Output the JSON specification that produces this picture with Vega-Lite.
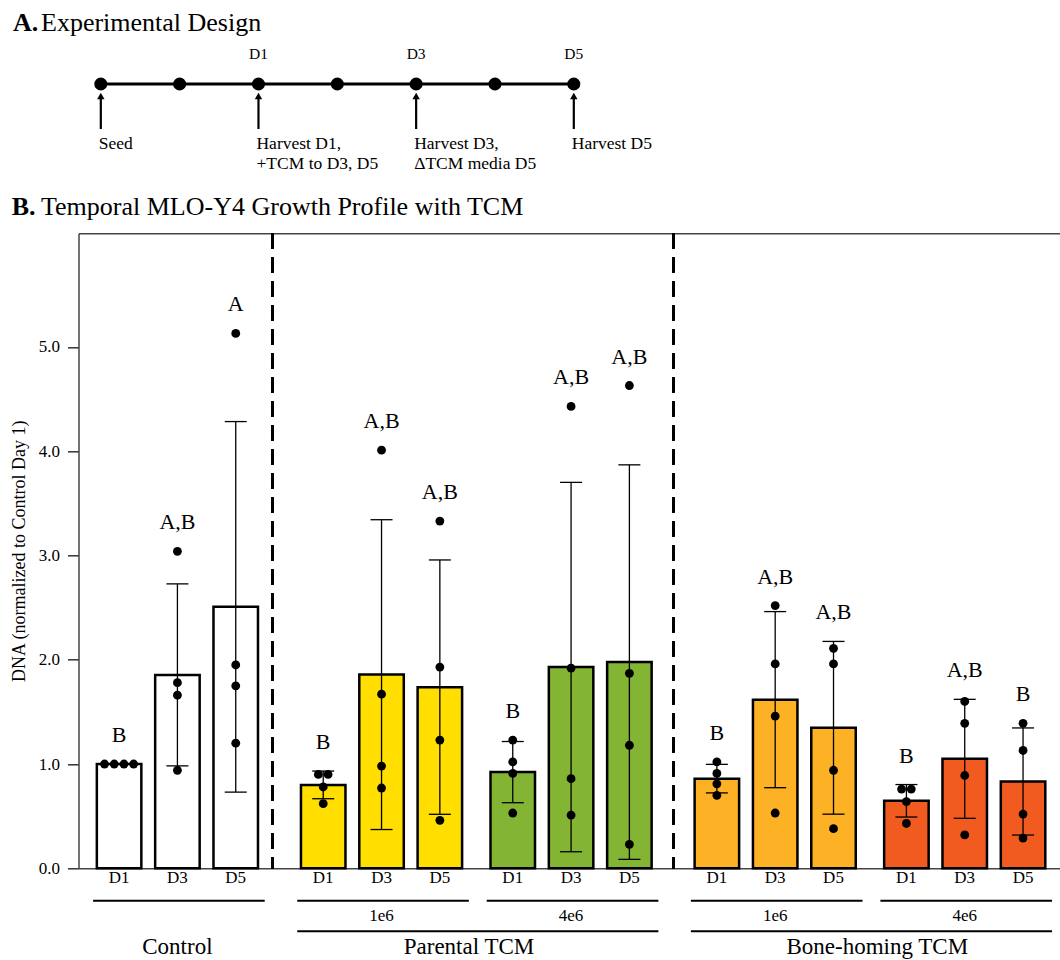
{
  "$schema": "https://vega.github.io/schema/vega-lite/v6.json",
  "background": "white",
  "padding": {"left": 9.5, "top": 10, "right": 0, "bottom": 0},
  "config": {
    "font": "Liberation Serif",
    "view": {"stroke": null},
    "axis": {"labelColor": "black", "titleColor": "black", "labelFont": "Liberation Serif", "titleFont": "Liberation Serif"},
    "title": {"font": "Liberation Serif", "fontWeight": "normal", "color": "black", "fontSize": 26, "anchor": "start"}
  },
  "datasets": {
    "days": [
      {"day": -1, "ev": "Seed"},
      {"day": 0},
      {"day": 1, "top": "D1", "ev": "Harvest D1,\n+TCM to D3, D5"},
      {"day": 2},
      {"day": 3, "top": "D3", "ev": "Harvest D3,\nΔTCM media D5"},
      {"day": 4},
      {"day": 5, "top": "D5", "ev": "Harvest D5"}
    ],
    "pts": [
      {"grp": "Control", "day": "D1", "value": 1.0},
      {"grp": "Control", "day": "D1", "value": 1.0},
      {"grp": "Control", "day": "D1", "value": 1.0},
      {"grp": "Control", "day": "D1", "value": 1.0},
      {"grp": "Control", "day": "D3", "value": 3.04},
      {"grp": "Control", "day": "D3", "value": 1.78},
      {"grp": "Control", "day": "D3", "value": 1.66},
      {"grp": "Control", "day": "D3", "value": 0.94},
      {"grp": "Control", "day": "D5", "value": 5.13},
      {"grp": "Control", "day": "D5", "value": 1.95},
      {"grp": "Control", "day": "D5", "value": 1.75},
      {"grp": "Control", "day": "D5", "value": 1.2},
      {"grp": "Parental 1e6", "day": "D1", "value": 0.9},
      {"grp": "Parental 1e6", "day": "D1", "value": 0.9},
      {"grp": "Parental 1e6", "day": "D1", "value": 0.78},
      {"grp": "Parental 1e6", "day": "D1", "value": 0.62},
      {"grp": "Parental 1e6", "day": "D3", "value": 4.01},
      {"grp": "Parental 1e6", "day": "D3", "value": 1.67},
      {"grp": "Parental 1e6", "day": "D3", "value": 0.98},
      {"grp": "Parental 1e6", "day": "D3", "value": 0.77},
      {"grp": "Parental 1e6", "day": "D5", "value": 3.33},
      {"grp": "Parental 1e6", "day": "D5", "value": 1.93},
      {"grp": "Parental 1e6", "day": "D5", "value": 1.23},
      {"grp": "Parental 1e6", "day": "D5", "value": 0.46},
      {"grp": "Parental 4e6", "day": "D1", "value": 1.23},
      {"grp": "Parental 4e6", "day": "D1", "value": 1.02},
      {"grp": "Parental 4e6", "day": "D1", "value": 0.91},
      {"grp": "Parental 4e6", "day": "D1", "value": 0.53},
      {"grp": "Parental 4e6", "day": "D3", "value": 4.43},
      {"grp": "Parental 4e6", "day": "D3", "value": 1.92},
      {"grp": "Parental 4e6", "day": "D3", "value": 0.86},
      {"grp": "Parental 4e6", "day": "D3", "value": 0.51},
      {"grp": "Parental 4e6", "day": "D5", "value": 4.63},
      {"grp": "Parental 4e6", "day": "D5", "value": 1.87},
      {"grp": "Parental 4e6", "day": "D5", "value": 1.18},
      {"grp": "Parental 4e6", "day": "D5", "value": 0.23},
      {"grp": "Bone-homing 1e6", "day": "D1", "value": 1.02},
      {"grp": "Bone-homing 1e6", "day": "D1", "value": 0.91},
      {"grp": "Bone-homing 1e6", "day": "D1", "value": 0.81},
      {"grp": "Bone-homing 1e6", "day": "D1", "value": 0.7},
      {"grp": "Bone-homing 1e6", "day": "D3", "value": 2.52},
      {"grp": "Bone-homing 1e6", "day": "D3", "value": 1.96},
      {"grp": "Bone-homing 1e6", "day": "D3", "value": 1.46},
      {"grp": "Bone-homing 1e6", "day": "D3", "value": 0.53},
      {"grp": "Bone-homing 1e6", "day": "D5", "value": 2.11},
      {"grp": "Bone-homing 1e6", "day": "D5", "value": 1.96},
      {"grp": "Bone-homing 1e6", "day": "D5", "value": 0.94},
      {"grp": "Bone-homing 1e6", "day": "D5", "value": 0.38},
      {"grp": "Bone-homing 4e6", "day": "D1", "value": 0.76},
      {"grp": "Bone-homing 4e6", "day": "D1", "value": 0.76},
      {"grp": "Bone-homing 4e6", "day": "D1", "value": 0.64},
      {"grp": "Bone-homing 4e6", "day": "D1", "value": 0.43},
      {"grp": "Bone-homing 4e6", "day": "D3", "value": 1.6},
      {"grp": "Bone-homing 4e6", "day": "D3", "value": 1.39},
      {"grp": "Bone-homing 4e6", "day": "D3", "value": 0.89},
      {"grp": "Bone-homing 4e6", "day": "D3", "value": 0.32},
      {"grp": "Bone-homing 4e6", "day": "D5", "value": 1.39},
      {"grp": "Bone-homing 4e6", "day": "D5", "value": 1.13},
      {"grp": "Bone-homing 4e6", "day": "D5", "value": 0.52},
      {"grp": "Bone-homing 4e6", "day": "D5", "value": 0.29}
    ],
    "letters": [
      {"key": "Control|D1", "letter": "B"},
      {"key": "Control|D3", "letter": "A,B"},
      {"key": "Control|D5", "letter": "A"},
      {"key": "Parental 1e6|D1", "letter": "B"},
      {"key": "Parental 1e6|D3", "letter": "A,B"},
      {"key": "Parental 1e6|D5", "letter": "A,B"},
      {"key": "Parental 4e6|D1", "letter": "B"},
      {"key": "Parental 4e6|D3", "letter": "A,B"},
      {"key": "Parental 4e6|D5", "letter": "A,B"},
      {"key": "Bone-homing 1e6|D1", "letter": "B"},
      {"key": "Bone-homing 1e6|D3", "letter": "A,B"},
      {"key": "Bone-homing 1e6|D5", "letter": "A,B"},
      {"key": "Bone-homing 4e6|D1", "letter": "B"},
      {"key": "Bone-homing 4e6|D3", "letter": "A,B"},
      {"key": "Bone-homing 4e6|D5", "letter": "B"}
    ],
    "brackets": [
      {"a": "Control|D1", "b": "Control|D5", "tier": "line1"},
      {"a": "Parental 1e6|D1", "b": "Parental 1e6|D5", "tier": "line1"},
      {"a": "Parental 4e6|D1", "b": "Parental 4e6|D5", "tier": "line1"},
      {"a": "Bone-homing 1e6|D1", "b": "Bone-homing 1e6|D5", "tier": "line1"},
      {"a": "Bone-homing 4e6|D1", "b": "Bone-homing 4e6|D5", "tier": "line1"},
      {"a": "Parental 1e6|D1", "b": "Parental 4e6|D5", "tier": "line2"},
      {"a": "Bone-homing 1e6|D1", "b": "Bone-homing 4e6|D5", "tier": "line2"}
    ],
    "glabels": [
      {"text": "1e6", "at": "Parental 1e6|D3", "tier": "dose"},
      {"text": "4e6", "at": "Parental 4e6|D3", "tier": "dose"},
      {"text": "1e6", "at": "Bone-homing 1e6|D3", "tier": "dose"},
      {"text": "4e6", "at": "Bone-homing 4e6|D3", "tier": "dose"},
      {"text": "Control", "at": "Control|D3", "tier": "group"},
      {"text": "Parental TCM", "at": "s18", "tier": "group"},
      {"text": "Bone-homing TCM", "at": "s40", "tier": "group"}
    ]
  },
  "spacing": 22.3,
  "resolve": {"scale": {"x": "independent", "y": "independent"}},
  "vconcat": [
    {
      "title": {"text": "A.", "fontWeight": "bold", "frame": "bounds", "dx": -28, "dy": 26, "offset": 0},
      "vconcat": [
        {
          "title": {"text": "Experimental Design", "frame": "group", "dx": -37.5, "offset": 11},
          "width": 600,
          "height": 90,
          "data": {"name": "days"},
          "encoding": {
            "x": {"field": "day", "type": "quantitative", "scale": {"domain": [-1.283, 6.328], "nice": false, "zero": false}, "axis": null}
          },
          "layer": [
            {
              "mark": {"type": "line", "color": "black", "strokeWidth": 3},
              "encoding": {"y": {"datum": "line", "type": "ordinal", "scale": {"type": "point", "domain": ["day", "line", "gap", "event"], "padding": 0}, "axis": null}}
            },
            {
              "mark": {"type": "circle", "color": "black", "opacity": 1, "size": 170},
              "encoding": {"y": {"datum": "line", "type": "ordinal"}}
            },
            {
              "transform": [{"filter": "isValid(datum.ev)"}],
              "mark": {"type": "rule", "color": "black", "strokeWidth": 2.2, "yOffset": 13, "y2Offset": -15},
              "encoding": {"y": {"datum": "line", "type": "ordinal"}, "y2": {"datum": "event"}}
            },
            {
              "transform": [{"filter": "isValid(datum.ev)"}],
              "mark": {"type": "point", "shape": "triangle-up", "filled": true, "color": "black", "opacity": 1, "size": 55, "yOffset": 12},
              "encoding": {"y": {"datum": "line", "type": "ordinal"}}
            },
            {
              "transform": [{"filter": "isValid(datum.top)"}],
              "mark": {"type": "text", "fontSize": 15.5, "baseline": "middle", "align": "center", "color": "black"},
              "encoding": {"y": {"datum": "day", "type": "ordinal"}, "text": {"field": "top"}}
            },
            {
              "transform": [{"filter": "isValid(datum.ev)"}],
              "mark": {"type": "text", "fontSize": 17.5, "baseline": "top", "align": "left", "dx": -2, "dy": -9, "lineBreak": "\n", "lineHeight": 19.5, "color": "black"},
              "encoding": {"y": {"datum": "event", "type": "ordinal"}, "text": {"field": "ev"}}
            }
          ]
        }
      ]
    },
    {
      "title": {"text": "B.", "fontWeight": "bold", "frame": "bounds", "dx": 1.5, "dy": 26, "offset": 0},
      "spacing": 14.4,
      "resolve": {"scale": {"x": "shared", "y": "independent"}},
      "vconcat": [
        {
          "title": {"text": "Temporal MLO-Y4 Growth Profile with TCM", "frame": "group", "dx": -37.5, "offset": 12},
          "width": 981.3,
          "height": 635,
          "data": {"name": "pts"},
          "transform": [
            {"calculate": "datum.grp + '|' + datum.day", "as": "key"},
            {"window": [{"op": "row_number", "as": "r"}], "groupby": ["key", "value"]},
            {"joinaggregate": [{"op": "count", "as": "n"}], "groupby": ["key", "value"]},
            {"calculate": "datum.r - (datum.n + 1) / 2", "as": "dodge"}
          ],
          "resolve": {"axis": {"x": "independent"}},
          "layer": [
            {
              "transform": [{"aggregate": [{"op": "mean", "field": "value", "as": "m"}], "groupby": ["key", "grp"]}],
              "mark": {"type": "bar", "width": 44.5, "stroke": "black", "strokeWidth": 2.5, "opacity": 1},
              "encoding": {
                "x": {
                  "field": "key", "type": "nominal",
                  "scale": {"type": "band", "paddingInner": 0, "paddingOuter": 0.6525, "align": 0.218, "round": false,
                    "domain": ["L0","L1","Control|D1","s0","s1","s2","Control|D3","s3","s4","s5","Control|D5","s6","s7","s8","s9","s10","Parental 1e6|D1","s11","s12","s13","Parental 1e6|D3","s14","s15","s16","Parental 1e6|D5","s17","s18","s19","s20","Parental 4e6|D1","s21","s22","s23","Parental 4e6|D3","s24","s25","s26","Parental 4e6|D5","s27","s28","s29","s30","s31","Bone-homing 1e6|D1","s32","s33","s34","Bone-homing 1e6|D3","s35","s36","s37","Bone-homing 1e6|D5","s38","s39","s40","s41","Bone-homing 4e6|D1","s42","s43","s44","Bone-homing 4e6|D3","s45","s46","s47","Bone-homing 4e6|D5","R0"]},
                  "axis": {"orient": "bottom", "title": null, "ticks": false, "labelAngle": 0, "labelOverlap": false, "labelFontSize": 17, "labelPadding": 1, "domainColor": "#444", "domainWidth": 1.5,
                    "labelExpr": "indexof(datum.value, '|') >= 0 ? split(datum.value, '|')[1] : ''"}
                },
                "y": {
                  "field": "m", "type": "quantitative", "title": "DNA (normalized to Control Day 1)",
                  "scale": {"domain": [0, 6.09], "nice": false},
                  "axis": {"values": [0, 1, 2, 3, 4, 5], "format": ".1f", "grid": false, "tickSize": 11, "tickColor": "#333", "tickWidth": 1.5, "domainColor": "#444", "domainWidth": 1.5, "labelFontSize": 17, "labelPadding": 8, "titleFontSize": 18, "titleFontWeight": "normal", "titlePadding": 10}
                },
                "fill": {"field": "grp", "type": "nominal", "legend": null,
                  "scale": {"domain": ["Control", "Parental 1e6", "Parental 4e6", "Bone-homing 1e6", "Bone-homing 4e6"], "range": ["#FFFFFF", "#FFDE00", "#84B433", "#FDB124", "#F25B1F"]}}
              }
            },
            {
              "transform": [
                {"aggregate": [{"op": "mean", "field": "value", "as": "m"}, {"op": "stdev", "field": "value", "as": "sd"}], "groupby": ["key"]},
                {"filter": "datum.sd > 0"},
                {"calculate": "datum.m - datum.sd", "as": "lo"},
                {"calculate": "datum.m + datum.sd", "as": "hi"}
              ],
              "mark": {"type": "rule", "color": "black", "strokeWidth": 1.3},
              "encoding": {
                "x": {"field": "key", "type": "nominal", "axis": null},
                "y": {"field": "lo", "type": "quantitative", "title": "DNA (normalized to Control Day 1)"},
                "y2": {"field": "hi"}
              }
            },
            {
              "transform": [
                {"aggregate": [{"op": "mean", "field": "value", "as": "m"}, {"op": "stdev", "field": "value", "as": "sd"}], "groupby": ["key"]},
                {"filter": "datum.sd > 0"},
                {"calculate": "datum.m - datum.sd", "as": "lo"},
                {"calculate": "datum.m + datum.sd", "as": "hi"},
                {"fold": ["lo", "hi"], "as": ["end", "v"]}
              ],
              "mark": {"type": "tick", "color": "black", "thickness": 1.3, "size": 22, "opacity": 1},
              "encoding": {
                "x": {"field": "key", "type": "nominal", "axis": null},
                "y": {"field": "v", "type": "quantitative", "title": "DNA (normalized to Control Day 1)"}
              }
            },
            {
              "mark": {"type": "circle", "color": "black", "opacity": 1, "size": 78},
              "encoding": {
                "x": {"field": "key", "type": "nominal", "axis": {"orient": "top", "title": null, "labels": false, "ticks": false, "domain": true, "domainColor": "#444", "domainWidth": 1.5}},
                "xOffset": {"field": "dodge", "type": "quantitative", "scale": {"domain": [-1.5, 1.5], "range": [-7.26, 21.84]}},
                "y": {"field": "value", "type": "quantitative", "title": "DNA (normalized to Control Day 1)"}
              }
            },
            {
              "mark": {"type": "rule", "color": "black", "strokeWidth": 2, "strokeDash": [15, 9]},
              "encoding": {"x": {"datum": "s7", "type": "nominal", "bandPosition": 1, "axis": null}}
            },
            {
              "mark": {"type": "rule", "color": "black", "strokeWidth": 2, "strokeDash": [15, 9]},
              "encoding": {"x": {"datum": "s29", "type": "nominal", "bandPosition": 0.5, "axis": null}}
            },
            {
              "transform": [
                {"aggregate": [{"op": "mean", "field": "value", "as": "m"}, {"op": "stdev", "field": "value", "as": "sd"}, {"op": "max", "field": "value", "as": "mx"}], "groupby": ["key"]},
                {"calculate": "max(datum.mx, datum.m + datum.sd)", "as": "top"},
                {"lookup": "key", "from": {"data": {"name": "letters"}, "key": "key", "fields": ["letter"]}}
              ],
              "mark": {"type": "text", "fontSize": 22, "dy": -29, "baseline": "middle", "align": "center", "color": "black"},
              "encoding": {
                "x": {"field": "key", "type": "nominal", "axis": null},
                "y": {"field": "top", "type": "quantitative", "title": "DNA (normalized to Control Day 1)"},
                "text": {"field": "letter"}
              }
            }
          ]
        },
        {
          "width": 981.3,
          "height": 46,
          "layer": [
            {
              "data": {"name": "brackets"},
              "mark": {"type": "rule", "color": "black", "strokeWidth": 2, "xOffset": -26, "x2Offset": 29},
              "encoding": {
                "x": {"field": "a", "type": "nominal", "axis": null,
                  "scale": {"type": "band", "paddingInner": 0, "paddingOuter": 0.6525, "align": 0.218, "round": false,
                    "domain": ["L0","L1","Control|D1","s0","s1","s2","Control|D3","s3","s4","s5","Control|D5","s6","s7","s8","s9","s10","Parental 1e6|D1","s11","s12","s13","Parental 1e6|D3","s14","s15","s16","Parental 1e6|D5","s17","s18","s19","s20","Parental 4e6|D1","s21","s22","s23","Parental 4e6|D3","s24","s25","s26","Parental 4e6|D5","s27","s28","s29","s30","s31","Bone-homing 1e6|D1","s32","s33","s34","Bone-homing 1e6|D3","s35","s36","s37","Bone-homing 1e6|D5","s38","s39","s40","s41","Bone-homing 4e6|D1","s42","s43","s44","Bone-homing 4e6|D3","s45","s46","s47","Bone-homing 4e6|D5","R0"]}},
                "x2": {"field": "b"},
                "y": {"field": "tier", "type": "ordinal", "axis": null, "scale": {"type": "point", "domain": ["line1", "dose", "line2", "group"], "padding": 0}}
              }
            },
            {
              "data": {"name": "glabels"},
              "transform": [{"filter": "datum.tier == 'dose'"}],
              "mark": {"type": "text", "fontSize": 17, "baseline": "middle", "align": "center", "color": "black"},
              "encoding": {
                "x": {"field": "at", "type": "nominal", "axis": null},
                "y": {"field": "tier", "type": "ordinal", "axis": null},
                "text": {"field": "text"}
              }
            },
            {
              "data": {"name": "glabels"},
              "transform": [{"filter": "datum.tier == 'group'"}],
              "mark": {"type": "text", "fontSize": 23, "baseline": "middle", "align": "center", "color": "black"},
              "encoding": {
                "x": {"field": "at", "type": "nominal", "axis": null},
                "y": {"field": "tier", "type": "ordinal", "axis": null},
                "text": {"field": "text"}
              }
            }
          ]
        }
      ]
    }
  ]
}
